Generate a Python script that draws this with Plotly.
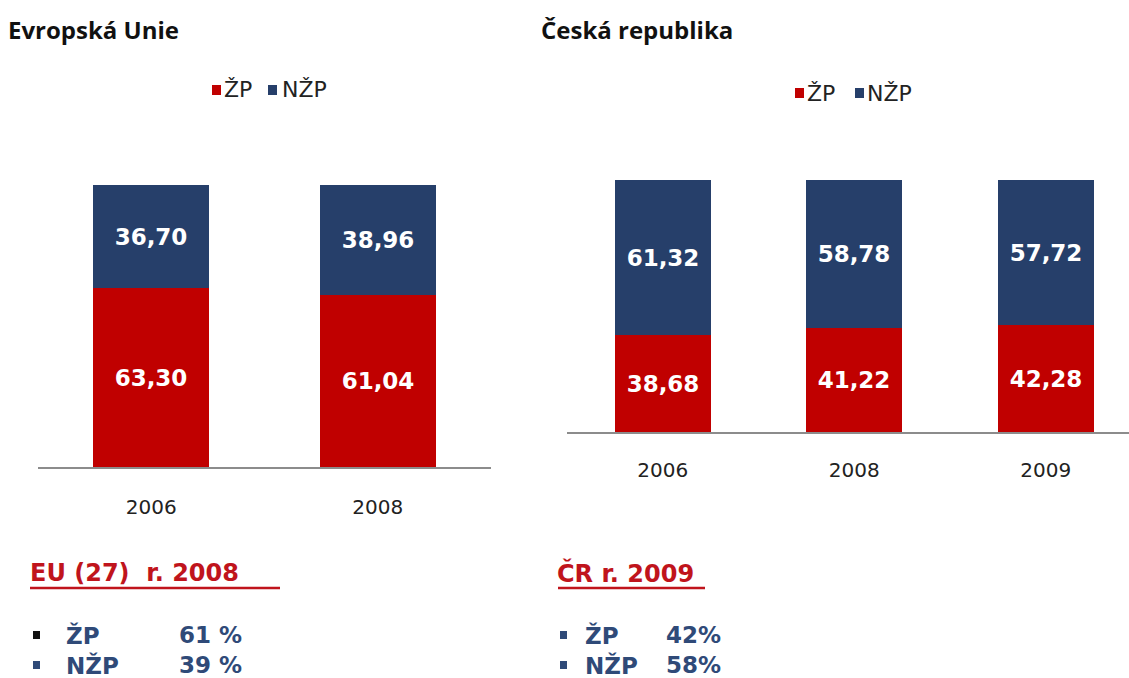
import plotly.graph_objects as go

# Data
eu_years = ["2006", "2008"]
eu_zp = [63.30, 61.04]
eu_nzp = [36.70, 38.96]

cr_years = ["2006", "2008", "2009"]
cr_zp = [38.68, 41.22, 42.28]
cr_nzp = [61.32, 58.78, 57.72]

eu_summary_labels = ["ŽP", "NŽP"]
eu_summary_values = ["61 %", "39 %"]
cr_summary_labels = ["ŽP", "NŽP"]
cr_summary_values = ["42%", "58%"]

RED = "#C00000"
NAVY = "#263F6A"
TEXT_NAVY = "#2F4A78"
TITLE_RED = "#C0141C"

W, H = 1129, 678


def px(x):
    return x / W


def py(y):
    return 1 - y / H


fig = go.Figure()

bar_text = dict(family="DejaVu Sans", size=23, color="white", weight="bold")


def add_stack(years, zp, nzp, xa, ya, width):
    fig.add_trace(go.Bar(
        x=years, y=zp, name="ŽP", marker=dict(color=RED, line=dict(width=0)),
        width=width, xaxis=xa, yaxis=ya, texttemplate="%{y:.2f}",
        textposition="inside", insidetextanchor="middle", textangle=0,
        textfont=bar_text, showlegend=False,
    ))
    fig.add_trace(go.Bar(
        x=years, y=nzp, name="NŽP", marker=dict(color=NAVY, line=dict(width=0)),
        width=width, xaxis=xa, yaxis=ya, texttemplate="%{y:.2f}",
        textposition="inside", insidetextanchor="middle", textangle=0,
        textfont=bar_text, showlegend=False,
    ))


add_stack(eu_years, eu_zp, eu_nzp, "x", "y", 0.512)
add_stack(cr_years, cr_zp, cr_nzp, "x2", "y2", 0.50)

tick_font = dict(family="DejaVu Sans", size=20, color="#222222")
xcommon = dict(type="category", showline=True, linecolor="#8C8C8C", linewidth=1.5,
               showgrid=False, zeroline=False, ticks="", tickfont=tick_font,
               fixedrange=True)
ycommon = dict(range=[0, 100], visible=False, showgrid=False, zeroline=False,
               fixedrange=True)

fig.update_layout(
    width=W, height=H,
    margin=dict(l=0, r=0, t=0, b=0),
    paper_bgcolor="white", plot_bgcolor="white",
    barmode="stack", bargap=0,
    separators=", ",
    xaxis=dict(domain=[px(38), px(491)], range=[-0.5, 1.5], anchor="y",
               ticklabelstandoff=21, **xcommon),
    yaxis=dict(domain=[py(467), py(185)], anchor="x", **ycommon),
    xaxis2=dict(domain=[px(567), 1.0], range=[-0.5, 2.435], anchor="y2",
                ticklabelstandoff=19, **xcommon),
    yaxis2=dict(domain=[py(432), py(180)], anchor="x2", **ycommon),
)

annotations = []
shapes = []

# Panel titles
title_font = dict(family="Open Sans", size=24, color="#111111", weight="bold")
annotations.append(dict(text="Evropská Unie", x=px(6), y=py(30), xref="paper", yref="paper",
                        xanchor="left", yanchor="middle", showarrow=False, font=title_font))
annotations.append(dict(text="Česká republika", x=px(539), y=py(30), xref="paper", yref="paper",
                        xanchor="left", yanchor="middle", showarrow=False, font=title_font))


# Legends: coloured squares with labels
def legend(x_red, x_zp, x_blue, x_nzp, yc):
    for xs, col in ((x_red, RED), (x_blue, NAVY)):
        shapes.append(dict(type="rect", xref="paper", yref="paper",
                           x0=px(xs), x1=px(xs + 9), y0=py(yc + 5), y1=py(yc - 5),
                           fillcolor=col, line=dict(width=0)))
    lf = dict(family="DejaVu Sans", size=22, color="#222222")
    for xs, t in ((x_zp, "ŽP"), (x_nzp, "NŽP")):
        annotations.append(dict(text=t, x=px(xs), y=py(yc), xref="paper", yref="paper",
                                xanchor="left", yanchor="middle", showarrow=False, font=lf))


legend(212, 222, 268, 280, 90)
legend(795, 805, 855, 865, 93)

# Summary headings (red, underlined)
head_font = dict(family="DejaVu Sans", size=24, color=TITLE_RED, weight="bold")
annotations.append(dict(text="EU (27)  r. 2008", x=px(28), y=py(573), xref="paper", yref="paper",
                        xanchor="left", yanchor="middle", showarrow=False, font=head_font))
annotations.append(dict(text="ČR r. 2009", x=px(555), y=py(573), xref="paper", yref="paper",
                        xanchor="left", yanchor="middle", showarrow=False, font=head_font))
for x0, x1 in ((30, 280), (558, 705)):
    shapes.append(dict(type="line", xref="paper", yref="paper", x0=px(x0), x1=px(x1),
                       y0=py(588), y1=py(588), line=dict(color=TITLE_RED, width=2.5)))

# Summary bullet rows
row_font = dict(family="DejaVu Sans", size=23, color=TEXT_NAVY, weight="bold")


def bullets(xb, xl, xv_right, labels, values, colors):
    for i, (lab, val) in enumerate(zip(labels, values)):
        yc = 635 + i * 30
        shapes.append(dict(type="rect", xref="paper", yref="paper",
                           x0=px(xb), x1=px(xb + 7), y0=py(yc + 4), y1=py(yc - 4),
                           fillcolor=colors[i], line=dict(width=0)))
        annotations.append(dict(text=lab, x=px(xl), y=py(yc), xref="paper", yref="paper",
                                xanchor="left", yanchor="middle", showarrow=False, font=row_font))
        annotations.append(dict(text=val, x=px(xv_right), y=py(yc), xref="paper", yref="paper",
                                xanchor="right", yanchor="middle", showarrow=False, font=row_font))


bullets(33, 64, 244, eu_summary_labels, eu_summary_values, ["#111111", TEXT_NAVY])
bullets(560, 583, 723, cr_summary_labels, cr_summary_values, [TEXT_NAVY, TEXT_NAVY])

fig.update_layout(annotations=annotations, shapes=shapes)

fig.write_html("out.html")
